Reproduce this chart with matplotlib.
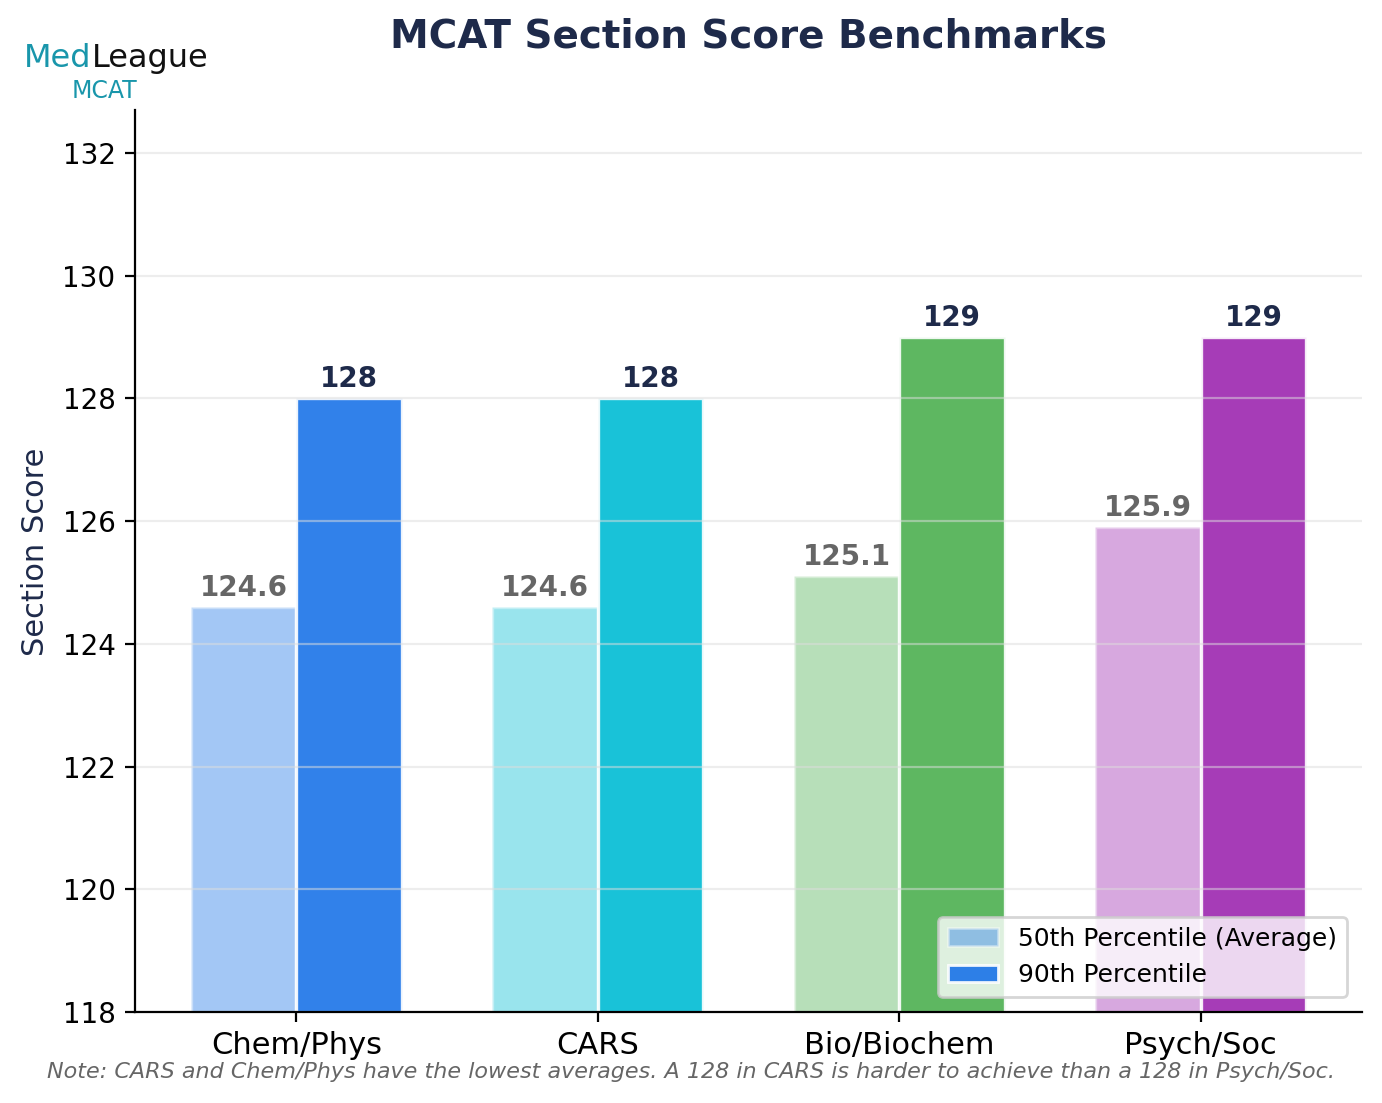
import matplotlib
matplotlib.use("Agg")
import matplotlib.pyplot as plt
import numpy as np
from matplotlib.patches import Patch

sections = ["Chem/Phys", "CARS", "Bio/Biochem", "Psych/Soc"]
p50 = [124.6, 124.6, 125.1, 125.9]
p90 = [128, 128, 129, 129]
base_colors = ["#1a73e8", "#00bcd4", "#4caf50", "#9c27b0"]
yticks = [118, 120, 122, 124, 126, 128, 130, 132]

navy = "#1e2a4a"
fig = plt.figure(figsize=(6.91, 5.515), dpi=200)
ax = fig.add_axes([0.0977, 0.0825, 0.8878, 0.8178])

x = np.arange(len(sections))
w = 0.35
for i in range(len(sections)):
    ax.bar(x[i] - w / 2, p50[i], w, color=base_colors[i], alpha=0.4,
           edgecolor="white", linewidth=1.2)
    ax.bar(x[i] + w / 2, p90[i], w, color=base_colors[i], alpha=0.9,
           edgecolor="white", linewidth=1.2)
    ax.text(x[i] - w / 2, p50[i] + 0.08, f"{p50[i]:.1f}", ha="center", va="bottom",
            fontsize=10, fontweight="bold", color="#666666")
    ax.text(x[i] + w / 2, p90[i] + 0.08, f"{p90[i]:d}", ha="center", va="bottom",
            fontsize=10, fontweight="bold", color=navy)

ax.set_ylim(118, 132.7)
ax.set_xlim(-0.535, 3.535)
ax.set_yticks(yticks)
ax.set_xticks(x)
ax.set_xticklabels(sections, fontsize=11)
ax.tick_params(axis="y", labelsize=10)
ax.set_ylabel("Section Score", fontsize=11, color=navy)
ax.yaxis.set_label_coords(-0.069, 0.51)
ax.yaxis.grid(True, color="#dddddd", alpha=0.5, linewidth=0.8)
ax.spines["top"].set_visible(False)
ax.spines["right"].set_visible(False)

handles = [Patch(facecolor=base_colors[0], alpha=0.4, edgecolor="white"),
           Patch(facecolor=base_colors[0], alpha=0.9, edgecolor="white")]
ax.legend(handles, ["50th Percentile (Average)", "90th Percentile"],
          loc="lower right", fontsize=9, framealpha=0.8, borderaxespad=0.6)

fig.text(748 / 1382, 1 - 48 / 1103, "MCAT Section Score Benchmarks", ha="center",
         va="baseline", fontsize=14, fontweight="bold", color=navy)
fig.text(0.5, 1 - 1072 / 1103,
         "Note: CARS and Chem/Phys have the lowest averages. A 128 in CARS is harder to achieve than a 128 in Psych/Soc.",
         ha="center", va="center", fontsize=8, style="italic", color="#666666")

# logo
med = fig.text(24 / 1382, 1 - 67 / 1103, "Med", fontsize=11.5, family="DejaVu Sans",
               color="#1996ab", va="baseline", ha="left")
ax.annotate("League", xy=(1, 0), xycoords=med, xytext=(0.3, 0), textcoords="offset points",
            fontsize=11.5, family="DejaVu Sans", color="#111111",
            va="bottom", ha="left", annotation_clip=False)
fig.text(105 / 1382, 1 - 98 / 1103, "MCAT", fontsize=8.5, family="DejaVu Sans",
         color="#1996ab", va="baseline", ha="center")

fig.savefig("out.png", dpi=200)
